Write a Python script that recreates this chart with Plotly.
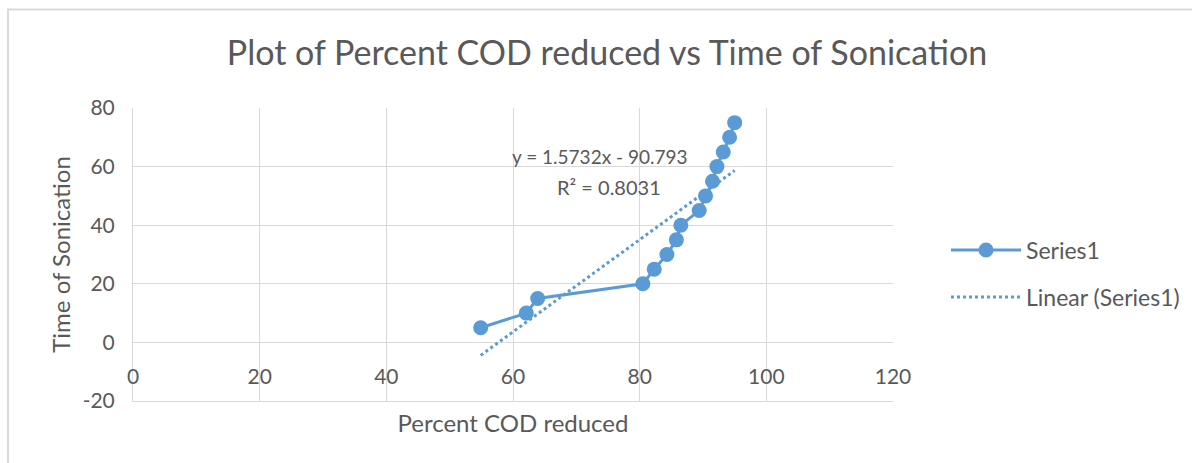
import plotly.graph_objects as go

# Data
percent_cod_reduced = [54.9, 62.1, 63.9, 80.5, 82.3, 84.3, 85.8, 86.5, 89.4, 90.4, 91.5, 92.2, 93.2, 94.2, 95.0]
time_of_sonication = [5, 10, 15, 20, 25, 30, 35, 40, 45, 50, 55, 60, 65, 70, 75]

trend_slope = 1.5732
trend_intercept = -90.793
trend_r2 = 0.8031

x_ticks = [0, 20, 40, 60, 80, 100, 120]
y_ticks = [-20, 0, 20, 40, 60, 80]
y_tick_labels = ["-20", "0", "20", "40", "60", "80"]

BLUE = "#5b9bd5"
TXT = "#595959"
GRID = "#d9d9d9"
FONT = "Lato"

x_min, x_max = min(percent_cod_reduced), max(percent_cod_reduced)
trend_x = [x_min, x_max]
trend_y = [trend_slope * v + trend_intercept for v in trend_x]

fig = go.Figure()
fig.add_trace(go.Scatter(
    x=percent_cod_reduced, y=time_of_sonication, mode="lines+markers",
    name="Series1", line=dict(color=BLUE, width=3),
    marker=dict(color=BLUE, size=15), legend="legend"))
fig.add_trace(go.Scatter(
    x=trend_x, y=trend_y, mode="lines", name="Linear (Series1)",
    line=dict(color=BLUE, width=3, dash="dot"), legend="legend2"))

L, R, T, B = 133, 299, 108, 62
W, H = 1192, 463
pw, ph = W - L - R, H - T - B

def px_to_paper_x(px):
    return (px - L) / pw

def px_to_paper_y(py):
    return (H - B - py) / ph

fig.update_layout(
    width=W, height=H,
    margin=dict(l=L, r=R, t=T, b=B, pad=0),
    paper_bgcolor="white", plot_bgcolor="white",
    font=dict(family=FONT, color=TXT, size=21),
    title=dict(text="Plot of Percent COD reduced vs Time of Sonication",
               x=607 / W, xref="container", xanchor="center",
               y=1 - 53 / H, yref="container", yanchor="middle",
               font=dict(size=34, color=TXT, family=FONT)),
    xaxis=dict(range=[0, 120], tickvals=x_ticks, showgrid=True, gridcolor=GRID, gridwidth=1,
               zeroline=False, showline=True, linecolor=GRID, linewidth=1,
               ticks="", ticklabelstandoff=-43,
               tickfont=dict(size=21, color=TXT),
               title=dict(text="Percent COD reduced", font=dict(size=24, color=TXT), standoff=27)),
    yaxis=dict(range=[-20, 80], tickvals=y_ticks, ticktext=y_tick_labels,
               showgrid=True, gridcolor=GRID, gridwidth=1,
               zeroline=True, zerolinecolor=GRID, zerolinewidth=1,
               showline=True, linecolor=GRID, linewidth=1, ticks="", ticklabelstandoff=13,
               tickfont=dict(size=21, color=TXT),
               title=dict(text="Time of Sonication", font=dict(size=24, color=TXT), standoff=5)),
    legend=dict(x=946 / W, xref="container", xanchor="left", y=1 - 250 / H, yref="container",
                yanchor="middle", font=dict(size=23, color=TXT), bgcolor="rgba(0,0,0,0)",
                itemwidth=70),
    legend2=dict(x=946 / W, xref="container", xanchor="left", y=1 - 297 / H, yref="container",
                 yanchor="middle", font=dict(size=23, color=TXT), bgcolor="rgba(0,0,0,0)",
                 itemwidth=70),
    showlegend=True,
)

fig.add_annotation(x=73.8, y=63.3, xref="x", yref="y", showarrow=False,
                   text="y = 1.5732x - 90.793", font=dict(size=19, color=TXT))
fig.add_annotation(x=75.2, y=53.1, xref="x", yref="y", showarrow=False,
                   text="R² = " + str(trend_r2), font=dict(size=20, color=TXT))

fig.add_shape(type="rect", xref="paper", yref="paper",
              x0=px_to_paper_x(8), x1=px_to_paper_x(1210),
              y0=px_to_paper_y(480), y1=px_to_paper_y(9.5),
              line=dict(color="#d9d9d9", width=2), fillcolor="rgba(0,0,0,0)", layer="below")

fig.write_html("out.html")
